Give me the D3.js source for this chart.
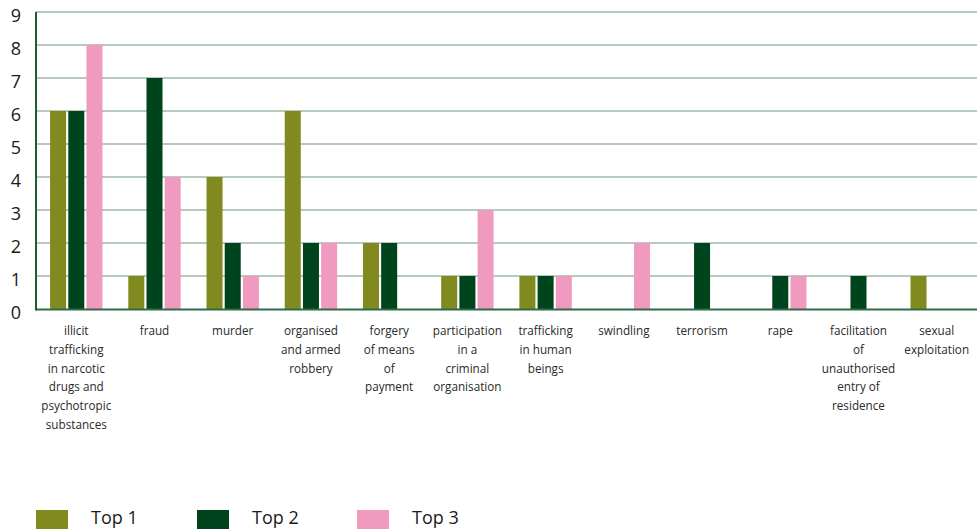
<!DOCTYPE html>
<html><head><meta charset="utf-8">
<script src="https://cdn.jsdelivr.net/npm/d3@7"></script>
<style>
body{margin:0;background:#fff;}
text{font-family:"Open Sans",sans-serif;}
</style></head>
<body><svg id="c" width="977" height="530"></svg>
<script>
const categories = [
  ["illicit","trafficking","in narcotic","drugs and","psychotropic","substances"],
  ["fraud"],
  ["murder"],
  ["organised","and armed","robbery"],
  ["forgery","of means","of","payment"],
  ["participation","in a","criminal","organisation"],
  ["trafficking","in human","beings"],
  ["swindling"],
  ["terrorism"],
  ["rape"],
  ["facilitation","of","unauthorised","entry of","residence"],
  ["sexual","exploitation"]
];
const seriesNames = ["Top 1","Top 2","Top 3"];
const top1 = [6,1,4,6,2,1,1,0,0,0,0,1];
const top2 = [6,7,2,2,2,1,1,0,2,1,1,0];
const top3 = [8,4,1,2,0,3,1,2,0,1,0,0];
const yTicks = [0,1,2,3,4,5,6,7,8,9];
const colors = ["#808a1e","#00441e","#f09ac0"];

(function(){
const series = [top1, top2, top3];
const svg = d3.select("#c");
const mL = 36, mR = 977, mT = 12, mB = 309;
const keys = categories.map((c,i)=>i);

const x0 = d3.scaleBand().domain(keys).range([mL, mR]).paddingInner(0.33).paddingOuter(0.18);
const x1 = d3.scaleBand().domain([0,1,2]).range([0, x0.bandwidth()]).paddingInner(0.12);
const y = d3.scaleLinear().domain([0,9]).range([mB, mT]);

svg.append("g").selectAll("line").data(yTicks.filter(d=>d>0)).join("line")
  .attr("x1", mL).attr("x2", mR)
  .attr("y1", d=>y(d)).attr("y2", d=>y(d))
  .attr("stroke", "#b7cabd").attr("stroke-width", 2);

svg.append("g").selectAll("text").data(yTicks).join("text")
  .attr("x", 16).attr("y", d=>y(d)+10)
  .attr("text-anchor","middle")
  .attr("font-size", 18).attr("fill","#1a1a1a")
  .text(d=>d);

const g = svg.append("g");
keys.forEach(i=>{
  series.forEach((s,j)=>{
    g.append("rect")
      .attr("x", x0(i)+x1(j)).attr("width", x1.bandwidth())
      .attr("y", y(s[i])).attr("height", y(0)-y(s[i]))
      .attr("fill", colors[j]);
  });
});

svg.append("line").attr("x1", mL).attr("x2", mR).attr("y1", y(0)+0.5).attr("y2", y(0)+0.5)
  .attr("stroke","#2f6b45").attr("stroke-width",2);
svg.append("line").attr("x1", mL).attr("x2", mL).attr("y1", mT).attr("y2", y(0)+1.5)
  .attr("stroke","#1e5a32").attr("stroke-width",2);

const cl = svg.append("g");
categories.forEach((lines,i)=>{
  const t = cl.append("text").attr("text-anchor","middle").attr("font-size",11.7).attr("fill","#2a2a2a");
  lines.forEach((ln,k)=>{
    t.append("tspan").attr("x", x0(i)+x0.bandwidth()/2).attr("y", 335 + k*18.8).text(ln);
  });
});

const legX = [36, 197, 357];
const lg = svg.append("g");
seriesNames.forEach((n,j)=>{
  lg.append("rect").attr("x", legX[j]).attr("y", 510).attr("width", 32).attr("height", 19).attr("fill", colors[j]);
  lg.append("text").attr("x", legX[j]+55).attr("y", 524).attr("font-size", 18).attr("fill","#1a1a1a").text(n);
});
})();
</script></body></html>
